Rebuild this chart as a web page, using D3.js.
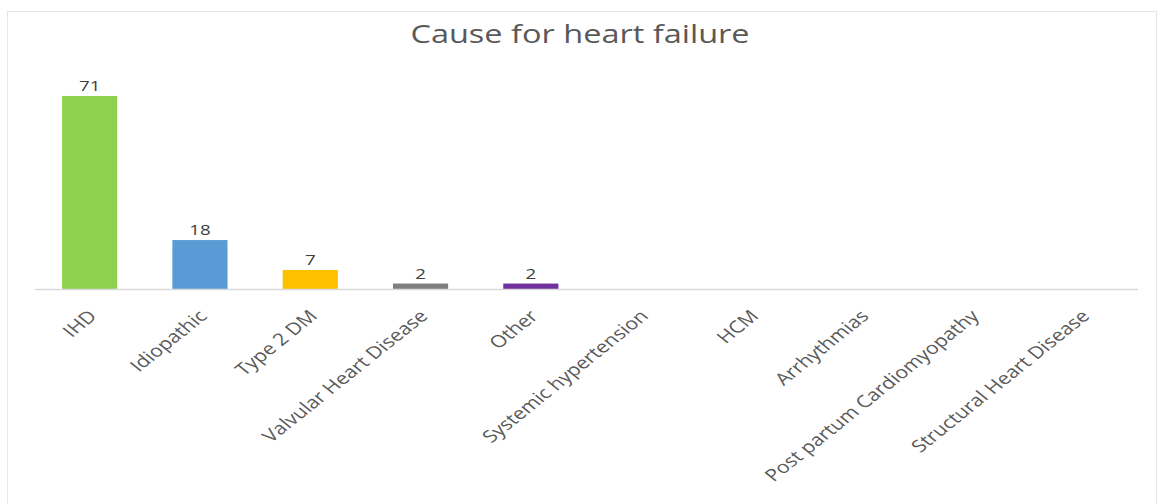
<!DOCTYPE html>
<html>
<head>
<meta charset="utf-8">
<script src="https://cdn.jsdelivr.net/npm/d3@7"></script>
<style>
  html, body { margin: 0; padding: 0; background: #fff; }
  svg { display: block; font-family: "Open Sans", "Noto Sans", sans-serif; }
</style>
</head>
<body>
<svg id="chart" width="1158" height="504"></svg>
<script>
// Causes of heart failure, patient counts
const categories = [
  "IHD", "Idiopathic", "Type 2 DM", "Valvular Heart Disease", "Other",
  "Systemic hypertension", "HCM", "Arrhythmias",
  "Post partum Cardiomyopathy", "Structural Heart Disease"
];
const counts = [71, 18, 7, 2, 2, null, null, null, null, null];
const barColors = ["#8fd14f", "#5b9bd5", "#ffc000", "#7f7f7f", "#7030a0",
                   "#5b9bd5", "#5b9bd5", "#5b9bd5", "#5b9bd5", "#5b9bd5"];
const yDomain = [0, 80];
const title = "Cause for heart failure";

const svg = d3.select("#chart");
const W = 1158, H = 504;
const TEXT_STRETCH = 1.25; // text is drawn slightly wide

// chart frame
svg.append("rect")
  .attr("x", 7.5).attr("y", 11.5)
  .attr("width", W - 9).attr("height", H)
  .attr("fill", "#fff")
  .attr("stroke", "#e6e6e6").attr("stroke-width", 1);

const plot = { left: 34.5, right: 1137.5, top: 71.5, bottom: 289 };

const x = d3.scaleBand()
  .domain(categories)
  .range([plot.left, plot.right])
  .paddingInner(0.5)
  .paddingOuter(0.25);

const y = d3.scaleLinear()
  .domain(yDomain)
  .range([plot.bottom, plot.top]);

// title
svg.append("text")
  .attr("transform", `translate(580,43) scale(${TEXT_STRETCH},1)`)
  .attr("text-anchor", "middle")
  .attr("font-size", 26)
  .attr("fill", "#595959")
  .text(title);

const data = categories.map((c, i) => ({ c, v: counts[i], color: barColors[i] }));
const withValue = data.filter(d => d.v != null);

// bars
svg.append("g")
  .selectAll("rect")
  .data(withValue)
  .join("rect")
  .attr("x", d => x(d.c))
  .attr("y", d => y(d.v))
  .attr("width", x.bandwidth())
  .attr("height", d => y(0) - y(d.v))
  .attr("fill", d => d.color);

// value labels
svg.append("g")
  .selectAll("text")
  .data(withValue)
  .join("text")
  .attr("transform", d =>
    `translate(${x(d.c) + x.bandwidth() / 2},${y(d.v) - 5}) scale(${TEXT_STRETCH},1)`)
  .attr("text-anchor", "middle")
  .attr("font-size", 15)
  .attr("fill", "#404040")
  .text(d => d.v);

// category axis
const xAxis = svg.append("g")
  .attr("transform", `translate(0,${y(0)})`)
  .call(d3.axisBottom(x).tickSize(0).tickPadding(0));

xAxis.select(".domain")
  .attr("stroke", "#d9d9d9")
  .attr("stroke-width", 1.5);

xAxis.selectAll(".tick text")
  .attr("font-family", "\"Open Sans\", \"Noto Sans\", sans-serif")
  .attr("font-size", 17)
  .attr("fill", "#595959")
  .attr("text-anchor", "end")
  .attr("y", 0)
  .attr("dy", "0.35em")
  .attr("transform", `translate(3,24) scale(${TEXT_STRETCH},1) rotate(-45)`);
</script>
</body>
</html>
